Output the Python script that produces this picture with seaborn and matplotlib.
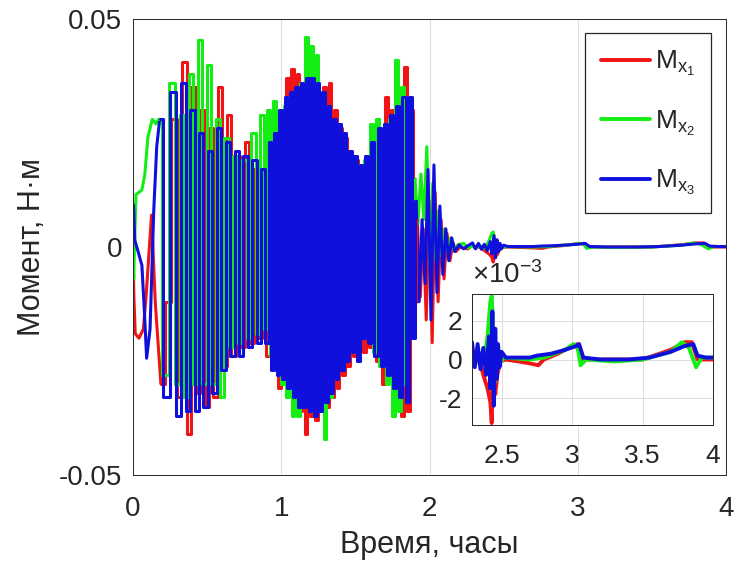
import numpy as np
import pandas as pd
import matplotlib
matplotlib.use("Agg")
import matplotlib.pyplot as plt
import seaborn as sns
from matplotlib.lines import Line2D
from matplotlib.ticker import FuncFormatter, FixedLocator

# ---------------- data ----------------
series_names = ["Mx1", "Mx2", "Mx3"]
legend_labels = [r"$\mathregular{M_{x_{1}}}$", r"$\mathregular{M_{x_{2}}}$", r"$\mathregular{M_{x_{3}}}$"]

# start of each record (hours, N*m)
red_start_t = [0.0, 0.005, 0.015, 0.04, 0.07, 0.09, 0.125, 0.15]
red_start_v = [0.004, -0.010, -0.019, -0.020, -0.018, -0.010, 0.007, -0.012]
green_start_t = [0.0, 0.005, 0.01, 0.02, 0.06, 0.08, 0.10, 0.13, 0.155]
green_start_v = [-0.002, -0.007, 0.0, 0.0115, 0.0125, 0.016, 0.024, 0.028, 0.027]
blue_start_t = [0.0, 0.004, 0.012, 0.03, 0.06, 0.075, 0.092, 0.115, 0.14, 0.16]
blue_start_v = [0.0095, 0.009, 0.0015, -0.0005, -0.004, -0.013, -0.0244, -0.018, 0.008, 0.022]

# times of the oscillation extremes (hours)
osc_t = [0.18, 0.23, 0.27, 0.31, 0.34, 0.37, 0.40, 0.43, 0.46, 0.49, 0.52, 0.55,
         0.58, 0.61, 0.64, 0.67, 0.70, 0.73, 0.76, 0.79, 0.82, 0.85, 0.88, 0.905,
         0.925, 0.943, 0.961, 0.979, 0.997, 1.015, 1.033, 1.051, 1.069, 1.087, 1.105, 1.123,
         1.141, 1.159, 1.177, 1.195, 1.213, 1.231, 1.249, 1.267, 1.285, 1.303, 1.321, 1.339,
         1.357, 1.375, 1.393, 1.411, 1.429, 1.447, 1.465, 1.483, 1.501, 1.519, 1.537, 1.555,
         1.576, 1.597, 1.618, 1.639, 1.66, 1.681, 1.702, 1.723, 1.744, 1.765, 1.786, 1.807,
         1.828, 1.849, 1.87, 1.89,
         1.91, 1.93, 1.95, 1.97, 1.99, 2.01, 2.03, 2.05, 2.07, 2.09, 2.11, 2.13, 2.15, 2.17, 2.2]

red_osc = [-0.030, -0.012, 0.028, -0.033, 0.0405, -0.041, 0.035, -0.032, 0.030, -0.035, 0.026, -0.033,
           0.035, -0.026, 0.029, -0.024, 0.020, -0.022, 0.023, -0.021, 0.017, -0.020, 0.015, -0.024,
           0.020, -0.025, 0.022, -0.031, 0.028, -0.030, 0.037, -0.032, 0.039, -0.034, 0.038, -0.036,
           0.034, -0.041, 0.035, -0.037, 0.034, -0.038, 0.033, -0.035, 0.035, -0.035, 0.036, -0.033,
           0.030, -0.031, 0.026, -0.028, 0.024, -0.026, 0.020, -0.024, 0.019, -0.022, 0.017, -0.023,
           0.017, -0.022, 0.020, -0.025, 0.025, -0.030, 0.033, -0.029, 0.030, -0.033, 0.032, -0.037,
           0.0395, -0.036, 0.030, -0.012,
           0.006, -0.011, 0.004, -0.016, 0.010, -0.021, 0.012, -0.012, 0.006, -0.007, 0.003, -0.003, 0.001, -0.001, 0.0]
green_osc = [0.028, -0.028, 0.036, -0.030, 0.029, -0.033, 0.038, -0.030, 0.0455, -0.030, 0.040, -0.030,
             0.028, -0.033, 0.024, -0.022, 0.020, -0.021, 0.019, -0.020, 0.025, -0.019, 0.029, -0.018,
             0.030, -0.024, 0.032, -0.027, 0.029, -0.030, 0.031, -0.033, 0.033, -0.037, 0.034, -0.037,
             0.036, -0.034, 0.046, -0.035, 0.044, -0.036, 0.042, -0.035, 0.033, -0.042, 0.030, -0.033,
             0.027, -0.028, 0.025, -0.026, 0.023, -0.024, 0.020, -0.022, 0.019, -0.021, 0.018, -0.019,
             0.019, -0.020, 0.027, -0.023, 0.028, -0.026, 0.026, -0.030, 0.028, -0.037, 0.041, -0.036,
             0.035, -0.030, 0.026, -0.010,
             0.015, 0.005, 0.016, 0.006, 0.022, -0.004, 0.014, -0.003, 0.008, -0.002, 0.004, -0.001, 0.002, -0.0005, 0.0005]
blue_osc = [0.028, -0.033, 0.034, -0.037, 0.036, -0.036, 0.030, -0.036, 0.025, -0.035, 0.021, -0.032,
            0.026, -0.027, 0.023, -0.024, 0.021, -0.024, 0.020, -0.022, 0.019, -0.021, 0.017, -0.021,
            0.023, -0.027, 0.025, -0.028, 0.030, -0.029, 0.033, -0.031, 0.034, -0.033, 0.035, -0.035,
            0.036, -0.035, 0.037, -0.036, 0.037, -0.037, 0.036, -0.036, 0.034, -0.034, 0.031, -0.032,
            0.028, -0.029, 0.027, -0.027, 0.025, -0.025, 0.021, -0.023, 0.020, -0.025, 0.018, -0.020,
            0.020, -0.021, 0.023, -0.024, 0.026, -0.026, 0.027, -0.028, 0.029, -0.031, 0.031, -0.033,
            0.033, -0.034, 0.033, -0.020,
            0.010, -0.012, 0.006, -0.008, 0.017, -0.016, 0.018, -0.010, 0.009, -0.006, 0.004, -0.003, 0.002, -0.001, 0.0005]

# settled part (hours, N*m)
red_tail_t = [2.23, 2.26, 2.29, 2.31, 2.34, 2.37, 2.40, 2.42, 2.43, 2.44, 2.455, 2.47, 2.49, 2.53, 2.62,
              2.7, 2.76, 2.8, 2.9, 3.0, 3.04, 3.07, 3.2, 3.5, 3.7, 3.8, 3.85, 3.89, 4.0]
red_tail_v = [-0.0003, -0.0004, 0.0004, -0.0002, 0.0001, -0.0008, -0.0015, -0.0022, -0.0033, 0.0002,
              -0.0018, -0.0008, -0.0001, 0.0, -0.0001, -0.0002, -0.0003, 0.0, 0.0003, 0.0007,
              0.0008, 0.0, 0.0, 0.0, 0.0005, 0.0009, 0.0009, 0.0, 0.0]
green_tail_t = [2.23, 2.26, 2.29, 2.31, 2.34, 2.37, 2.40, 2.42, 2.43, 2.44, 2.45, 2.46, 2.48, 2.52, 2.7,
                2.8, 2.95, 3.01, 3.04, 3.06, 3.1, 3.3, 3.5, 3.7, 3.78, 3.83, 3.88, 3.92, 4.0]
green_tail_v = [0.0008, -0.0002, 0.0002, -0.0003, 0.0003, -0.0002, 0.0012, 0.0030, 0.0033, 0.0015,
                -0.0012, 0.0004, -0.0002, 0.0001, 0.0, 0.0001, 0.0005, 0.0008, 0.0006, -0.0003,
                0.0, -0.0001, 0.0, 0.0004, 0.0009, 0.0006, -0.0004, 0.0001, 0.0001]
blue_tail_t = [2.23, 2.26, 2.29, 2.31, 2.33, 2.35, 2.37, 2.39, 2.41, 2.42, 2.435, 2.445, 2.455, 2.465,
               2.475, 2.485, 2.5, 2.53, 2.6, 2.7, 2.75, 2.85, 2.95, 3.03, 3.05, 3.08, 3.2, 3.4, 3.55,
               3.7, 3.8, 3.86, 3.89, 3.95, 4.0]
blue_tail_v = [-0.0004, 0.0003, 0.0009, -0.0004, 0.0008, -0.0005, 0.0006, -0.0008, 0.0012, -0.0015,
               0.0025, -0.0024, 0.0016, -0.0010, 0.0008, -0.0004, 0.0004, 0.0001, 0.0001, 0.0001,
               0.0002, 0.0003, 0.0005, 0.0007, 0.0008, 0.0001, 0.0, 0.0, 0.0001, 0.0004,
               0.0007, 0.0008, 0.0002, 0.0001, 0.0001]

main_xticks = [0, 1, 2, 3, 4]
main_yticks = [-0.05, 0, 0.05]
inset_xticks = [2.5, 3, 3.5, 4]
inset_yticks = [-0.002, 0, 0.002]

# ---------------- style ----------------
colors = {"Mx1": "#f01414", "Mx2": "#14ee14", "Mx3": "#1010dc"}
phase_shift = {"Mx1": 0.008, "Mx2": -0.008, "Mx3": 0.0}   # small drawing offset so traces interleave
dense_to = 77      # osc_t[:dense_to] drawn as a held (stepped) trace
ink = "#262626"

sns.set_theme(style="white")
plt.rcParams['font.family'] = ['Liberation Sans', 'DejaVu Sans']
plt.rcParams['mathtext.fontset'] = 'custom'
plt.rcParams['mathtext.rm'] = 'Liberation Sans'
plt.rcParams['mathtext.it'] = 'Liberation Sans'
plt.rcParams['axes.unicode_minus'] = False

lin_frames, step_frames, all_frames = [], [], []
for name, st, sv, ov, tt, tv in [
        ("Mx1", red_start_t, red_start_v, red_osc, red_tail_t, red_tail_v),
        ("Mx2", green_start_t, green_start_v, green_osc, green_tail_t, green_tail_v),
        ("Mx3", blue_start_t, blue_start_v, blue_osc, blue_tail_t, blue_tail_v)]:
    ot = list(np.array(osc_t) + phase_shift[name])
    lin_frames.append(pd.DataFrame({"t": st + ot[:1], "M": sv + ov[:1],
                                    "series": name, "seg": name + "a"}))
    step_frames.append(pd.DataFrame({"t": ot[:dense_to], "M": ov[:dense_to],
                                     "series": name, "seg": name + "b"}))
    lin_frames.append(pd.DataFrame({"t": ot[dense_to - 1:] + tt, "M": ov[dense_to - 1:] + tv,
                                    "series": name, "seg": name + "c"}))
    all_frames.append(pd.DataFrame({"t": st + ot + tt, "M": sv + ov + tv, "series": name, "seg": name}))
df_lin = pd.concat(lin_frames, ignore_index=True)
df_step = pd.concat(step_frames, ignore_index=True)
df_all = pd.concat(all_frames, ignore_index=True)

fig = plt.figure(figsize=(7.4, 5.69), dpi=100)
ax = fig.add_axes([133/740, 1 - 475/569, 593/740, 456/569])

sns.lineplot(data=df_lin, x="t", y="M", hue="series", hue_order=series_names, palette=colors,
             estimator=None, sort=False, units="seg", lw=2.2, legend=False, ax=ax)
sns.lineplot(data=df_step, x="t", y="M", hue="series", hue_order=series_names, palette=colors,
             estimator=None, sort=False, units="seg", lw=2.2, legend=False, ax=ax,
             drawstyle="steps-mid")

ax.set_xlim(0, 4)
ax.set_ylim(-0.05, 0.05)
ax.xaxis.set_major_locator(FixedLocator(main_xticks))
ax.yaxis.set_major_locator(FixedLocator(main_yticks))
fmt = FuncFormatter(lambda v, p: f"{v:g}")
ax.xaxis.set_major_formatter(fmt)
ax.yaxis.set_major_formatter(fmt)
ax.grid(axis="x", color="#dcdcdc", lw=0.7)
ax.tick_params(direction="in", length=5, width=0.7, colors=ink, labelsize=20)
ax.tick_params(axis="x", pad=15)
ax.tick_params(axis="y", pad=8)
for s in ax.spines.values():
    s.set_color(ink)
    s.set_linewidth(0.7)
ax.set_xlabel("Время, часы", fontsize=22, color=ink, labelpad=6)
ax.set_ylabel("Момент, Н·м", fontsize=22, color=ink, labelpad=8)

handles = [Line2D([], [], color=colors[n], lw=2.8) for n in series_names]
leg = ax.legend(handles, legend_labels, loc="upper right", bbox_to_anchor=(0.975, 0.969),
                borderaxespad=0, fontsize=19, handlelength=1.85, handletextpad=0.2,
                labelspacing=1.15, borderpad=0.6, fancybox=False, framealpha=1)
leg.get_frame().set_edgecolor(ink)
leg.get_frame().set_linewidth(0.9)
for txt in leg.get_texts():
    txt.set_color(ink)

# ---------------- inset ----------------
axi = fig.add_axes([472/740, 1 - 425/569, 241/740, 131/569])
dfi = df_all[df_all["t"] >= 2.25]
sns.lineplot(data=dfi, x="t", y="M", hue="series", hue_order=series_names, palette=colors,
             estimator=None, sort=False, units="seg", lw=2.8, legend=False, ax=axi)
axi.set_xlim(2.29, 4)
axi.set_ylim(-0.0034, 0.0034)
axi.xaxis.set_major_locator(FixedLocator(inset_xticks))
axi.yaxis.set_major_locator(FixedLocator(inset_yticks))
axi.xaxis.set_major_formatter(fmt)
axi.yaxis.set_major_formatter(FuncFormatter(lambda v, p: f"{v*1000:g}"))
axi.grid(True, color="#dcdcdc", lw=0.7)
axi.tick_params(direction="in", length=4, width=0.7, colors=ink, labelsize=19)
axi.tick_params(axis="x", pad=14)
axi.tick_params(axis="y", pad=7)
for s in axi.spines.values():
    s.set_color(ink)
    s.set_linewidth(0.7)
axi.set_xlabel("")
axi.set_ylabel("")
axi.text(0.0, 1.04, r"$\times\mathregular{10^{-3}}$", transform=axi.transAxes,
         fontsize=20, color=ink, ha="left", va="bottom")

fig.savefig("out.png", dpi=100)
